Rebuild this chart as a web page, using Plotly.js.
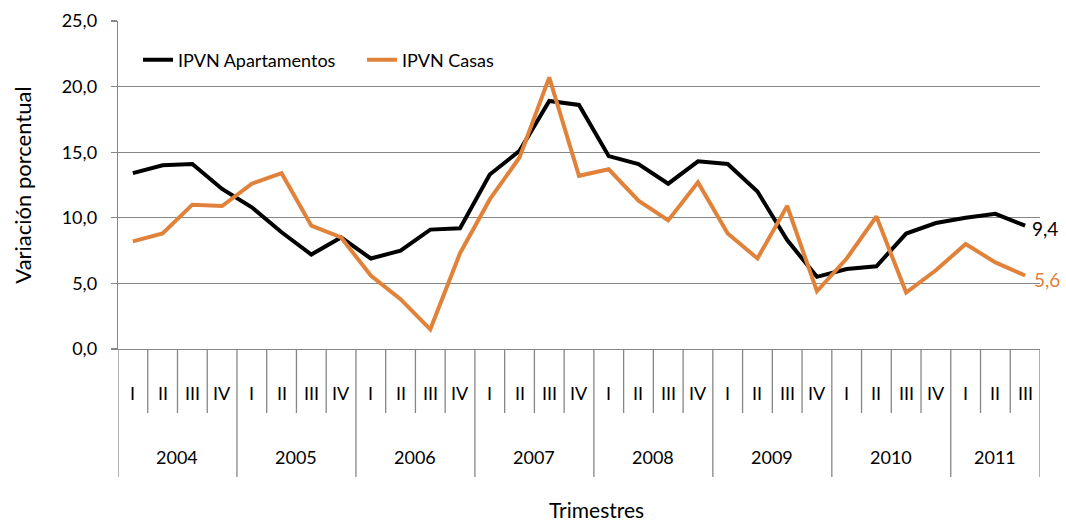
<!DOCTYPE html>
<html>
<head>
<meta charset="utf-8">
<script src="https://cdn.plot.ly/plotly-3.0.1.min.js"></script>
<style>html,body{margin:0;padding:0;background:#fff;}#chart{width:1066px;height:522px;}</style>
</head>
<body>
<div id="chart"></div>
<script>
// ---- data ----
const anios = ['2004','2005','2006','2007','2008','2009','2010','2011'];
const trimestres = ['I','II','III','IV'];
const serieApartamentos = 'IPVN Apartamentos';
const serieCasas = 'IPVN Casas';
const apartamentos = [13.4,14.0,14.1,12.2, 10.8,8.9,7.2,8.5, 6.9,7.5,9.1,9.2, 13.3,15.1,18.9,18.6,
                      14.7,14.1,12.6,14.3, 14.1,12.0,8.3,5.5, 6.1,6.3,8.8,9.6, 10.0,10.3,9.4];
const casas = [8.2,8.8,11.0,10.9, 12.6,13.4,9.4,8.5, 5.6,3.8,1.5,7.3, 11.4,14.6,20.7,13.2,
               13.7,11.3,9.8,12.7, 8.8,6.9,10.9,4.4, 6.9,10.1,4.3,6.0, 8.0,6.6,5.6];
const yTicks = [0,5,10,15,20,25];
const tituloY = 'Variación porcentual';
const tituloX = 'Trimestres';

// ---- build periods ----
const n = apartamentos.length;
const periodos = [];
anios.forEach(a => trimestres.forEach(t => periodos.push({anio:a, trim:t})));
periodos.length = n;
const xs = periodos.map((p,i) => i);
const etiquetas = periodos.map(p => p.anio + ' ' + p.trim);

const FONT = 'Lato, "Open Sans", sans-serif';
const GRAY = '#868686';
const ORANGE = '#E0823A';
const plotH = 522 - 21 - 173;
const fmt = v => v.toFixed(1).replace('.', ',');

const traces = [
  {x: xs, y: apartamentos, name: serieApartamentos, type:'scatter', mode:'lines',
   text: etiquetas, line:{color:'#000000', width:4}},
  {x: xs, y: casas, name: serieCasas, type:'scatter', mode:'lines',
   text: etiquetas, line:{color:ORANGE, width:4}}
];

const shapes = [];
for (let b = 0; b <= n; b++) {
  const isYear = (b % 4 === 0) || b === n;
  shapes.push({type:'line', xref:'x', yref:'paper', x0:b-0.5, x1:b-0.5,
    y0:0, y1: -(isYear ? 128 : 64)/plotH, line:{color:GRAY, width:1.3}});
}

const annotations = [];
periodos.forEach((p,i) => {
  annotations.push({x:i, xref:'x', y:-44/plotH, yref:'paper', text:p.trim, showarrow:false,
    xanchor:'center', yanchor:'middle', font:{family:FONT, size:18, color:'#000'}});
});
anios.forEach((a,k) => {
  const idx = periodos.map((p,i)=>p.anio===a?i:-1).filter(i=>i>=0);
  if (!idx.length) return;
  const c = (idx[0] + idx[idx.length-1]) / 2;
  annotations.push({x:c, xref:'x', y:-108/plotH, yref:'paper', text:a, showarrow:false,
    xanchor:'center', yanchor:'middle', font:{family:FONT, size:18, color:'#000'}});
});
annotations.push({x:n-1, y:apartamentos[n-1], xref:'x', yref:'y', text:fmt(apartamentos[n-1]),
  showarrow:false, xanchor:'left', yanchor:'middle', xshift:5, yshift:-3,
  font:{family:FONT, size:19, color:'#000'}});
annotations.push({x:n-1, y:casas[n-1], xref:'x', yref:'y', text:fmt(casas[n-1]),
  showarrow:false, xanchor:'left', yanchor:'middle', xshift:7, yshift:-4,
  font:{family:FONT, size:19, color:ORANGE}});
annotations.push({x:(596-118)/922, xref:'paper', y:-(509-349)/plotH, yref:'paper', text:tituloX,
  showarrow:false, xanchor:'center', yanchor:'middle', font:{family:FONT, size:21, color:'#000'}});

const layout = {
  width:1066, height:522,
  margin:{l:118, r:26, t:21, b:173, pad:0},
  paper_bgcolor:'#fff', plot_bgcolor:'#fff',
  separators:',.',
  font:{family:FONT, size:18, color:'#000'},
  showlegend:true,
  legend:{orientation:'h', x:0.0217, xanchor:'left', y:0.937, yanchor:'top',
    bgcolor:'rgba(0,0,0,0)', font:{family:FONT, size:18, color:'#000'},
    entrywidth:179, entrywidthmode:'pixels', itemwidth:30},
  xaxis:{range:[-0.5, n-0.5], showgrid:false, zeroline:false, showticklabels:false,
    ticks:'', showline:true, linecolor:GRAY, linewidth:1.3, fixedrange:true},
  yaxis:{range:[0,25], tickvals:yTicks, tickformat:'.1f', showgrid:true, gridcolor:GRAY, gridwidth:1.3,
    zeroline:false, showline:true, linecolor:GRAY, linewidth:1.3, ticks:'outside', ticklen:6,
    tickcolor:GRAY, tickwidth:1.3, ticklabelstandoff:10,
    tickfont:{family:FONT, size:18, color:'#000'},
    title:{text:tituloY, standoff:24, font:{family:FONT, size:22, color:'#000'}}, automargin:false},
  shapes: shapes,
  annotations: annotations
};

Plotly.newPlot('chart', traces, layout, {displayModeBar:false, staticPlot:true});
</script>
</body>
</html>
